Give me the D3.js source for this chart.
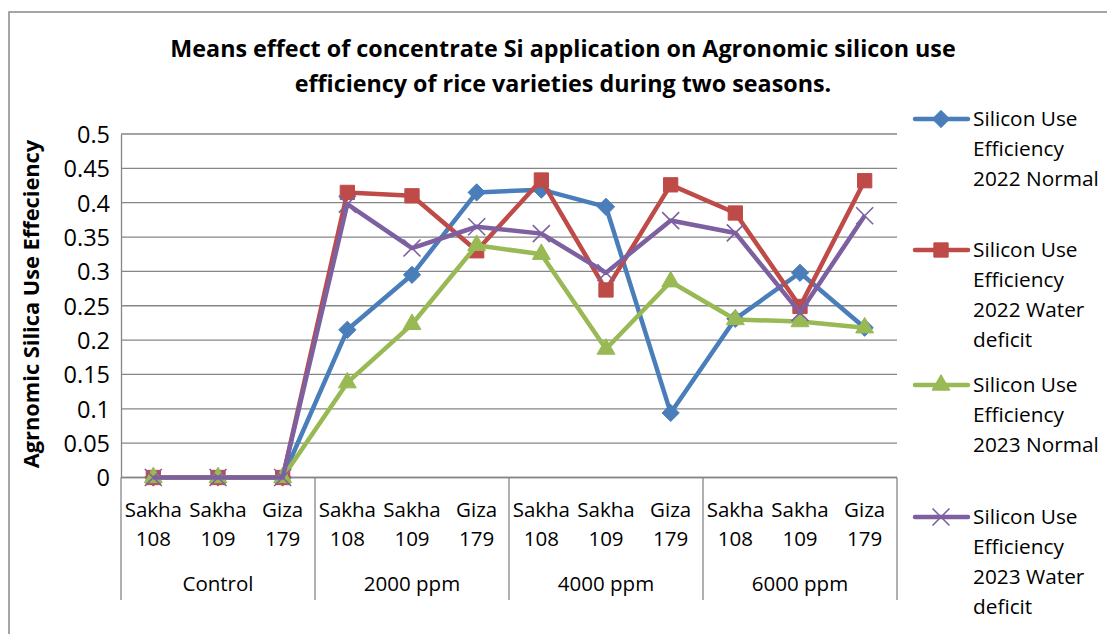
<!DOCTYPE html>
<html>
<head>
<meta charset="utf-8">
<script src="https://cdn.jsdelivr.net/npm/d3@7"></script>
<style>
  body { margin: 0; background: #fff; }
  text { font-family: "Open Sans", Lato, sans-serif; fill: #000; }
</style>
</head>
<body>
<svg id="chart"></svg>
<script>
const WIDTH = 1107
const HEIGHT = 634

const groups = ["Control", "2000 ppm", "4000 ppm", "6000 ppm"]
const varieties = [["Sakha", "108"], ["Sakha", "109"], ["Giza", "179"]]
const yTicks = [0, 0.05, 0.1, 0.15, 0.2, 0.25, 0.3, 0.35, 0.4, 0.45, 0.5]

const normal2022 = [0, 0, 0, 0.215, 0.295, 0.415, 0.419, 0.394, 0.094, 0.231, 0.298, 0.218]
const deficit2022 = [0, 0, 0, 0.415, 0.41, 0.33, 0.433, 0.273, 0.426, 0.385, 0.249, 0.432]
const normal2023 = [0, 0, 0, 0.138, 0.223, 0.338, 0.325, 0.187, 0.285, 0.23, 0.227, 0.218]
const deficit2023 = [0, 0, 0, 0.398, 0.334, 0.365, 0.355, 0.298, 0.374, 0.356, 0.24, 0.381]

const seriesNames = [
  ["Silicon Use", "Efficiency", "2022 Normal"],
  ["Silicon Use", "Efficiency", "2022 Water", "deficit"],
  ["Silicon Use", "Efficiency", "2023 Normal"],
  ["Silicon Use", "Efficiency", "2023 Water", "deficit"]
]
const seriesColours = ["#4a7ebb", "#be4b48", "#98b954", "#7d60a0"]
const seriesSymbols = ["diamond", "square", "triangle", "cross"]
const seriesValues = [normal2022, deficit2022, normal2023, deficit2023]

const plot = { left: 121, right: 897, top: 134, bottom: 477.5 }

let svg = d3.select("#chart")
  .attr("width", WIDTH)
  .attr("height", HEIGHT)

// outer chart border
svg.append("rect")
  .attr("x", 9).attr("y", 12)
  .attr("width", WIDTH + 10).attr("height", HEIGHT)
  .attr("fill", "none")
  .attr("stroke", "#888")
  .attr("stroke-width", 1.5)

// title
let title = svg.append("text")
  .attr("text-anchor", "middle")
  .style("font-weight", "bold")
  .style("font-size", "23.3px")
title.append("tspan").attr("x", 563).attr("y", 57)
  .text("Means effect of concentrate Si application on Agronomic silicon use")
title.append("tspan").attr("x", 563).attr("y", 92)
  .text("efficiency of rice varieties during two seasons.")

let categories = []
groups.forEach(g => varieties.forEach(v => categories.push(g + "|" + v.join(" "))))

let x = d3.scaleBand()
  .domain(categories)
  .range([plot.left, plot.right])

let y = d3.scaleLinear()
  .domain([0, 0.5])
  .range([plot.bottom, plot.top])

// gridlines
svg.append("g")
  .selectAll("line")
  .data(yTicks)
  .enter()
  .append("line")
  .attr("x1", plot.left).attr("x2", plot.right)
  .attr("y1", d => y(d)).attr("y2", d => y(d))
  .attr("stroke", "#868686")
  .attr("stroke-width", 1.3)

// y axis
let yAxis = svg.append("g")
  .attr("transform", `translate(${plot.left}, 0)`)
  .call(d3.axisLeft(y).tickValues(yTicks).tickSize(0).tickPadding(11).tickFormat(d => String(d)))
yAxis.select(".domain").attr("stroke", "#868686").attr("stroke-width", 1.3)
yAxis.selectAll(".tick text")
  .style("font-size", "23.5px")
  .style("font-family", "'Open Sans', sans-serif")
  .attr("fill", "#000")
  .attr("dy", "0.36em")

svg.append("text")
  .attr("transform", `translate(39, 304) rotate(-90)`)
  .attr("text-anchor", "middle")
  .style("font-weight", "bold")
  .style("font-size", "21.8px")
  .text("Agrnomic Silica Use Effeciency")

// x axis line and group dividers
svg.append("line")
  .attr("x1", plot.left).attr("x2", plot.right)
  .attr("y1", plot.bottom).attr("y2", plot.bottom)
  .attr("stroke", "#868686").attr("stroke-width", 1.3)

let groupEdges = groups.map((g, i) => x(g + "|" + varieties[0].join(" ")))
groupEdges.push(plot.right)
svg.append("g")
  .selectAll("line")
  .data(groupEdges)
  .enter()
  .append("line")
  .attr("x1", d => d).attr("x2", d => d)
  .attr("y1", plot.bottom).attr("y2", 600)
  .attr("stroke", "#868686").attr("stroke-width", 1.3)

let catLabels = svg.append("g")
  .selectAll("text")
  .data(categories)
  .enter()
  .append("text")
  .attr("text-anchor", "middle")
  .style("font-size", "20.5px")
catLabels.append("tspan")
  .attr("x", d => x(d) + x.bandwidth() / 2)
  .attr("y", 517)
  .text(d => d.split("|")[1].split(" ")[0])
catLabels.append("tspan")
  .attr("x", d => x(d) + x.bandwidth() / 2)
  .attr("y", 546)
  .text(d => d.split("|")[1].split(" ")[1])

svg.append("g")
  .selectAll("text")
  .data(groups)
  .enter()
  .append("text")
  .attr("x", (d, i) => (groupEdges[i] + groupEdges[i + 1]) / 2)
  .attr("y", 591)
  .attr("text-anchor", "middle")
  .style("font-size", "20.5px")
  .text(d => d)

// markers
function drawMarker(sel, symbol, colour) {
  if (symbol === "cross") {
    sel.append("path")
      .attr("d", "M-8.5,-8.5L8.5,8.5M-8.5,8.5L8.5,-8.5")
      .attr("stroke", colour)
      .attr("stroke-width", 1.6)
      .attr("fill", "none")
  } else {
    let shape = { diamond: d3.symbolDiamond2, square: d3.symbolSquare2, triangle: d3.symbolTriangle2 }[symbol]
    let size = { diamond: 190, square: 260, triangle: 230 }[symbol]
    sel.append("path")
      .attr("d", d3.symbol().type(shape).size(size)())
      .attr("fill", colour)
      .attr("stroke", colour)
      .attr("stroke-width", 1)
  }
}

let line = d3.line()
  .x((d, i) => x(categories[i]) + x.bandwidth() / 2)
  .y(d => y(d))

seriesValues.forEach((values, s) => {
  let g = svg.append("g")
  g.append("path")
    .datum(values)
    .attr("d", line)
    .attr("fill", "none")
    .attr("stroke", seriesColours[s])
    .attr("stroke-width", 4.5)
    .attr("stroke-linejoin", "round")
  values.forEach((v, i) => {
    let m = g.append("g")
      .attr("transform", `translate(${x(categories[i]) + x.bandwidth() / 2}, ${y(v)})`)
    drawMarker(m, seriesSymbols[s], seriesColours[s])
  })
})

// legend
let legendTops = [119, 250, 385, 517]
seriesNames.forEach((lines, s) => {
  let item = svg.append("g")
  let ly = legendTops[s]
  item.append("line")
    .attr("x1", 915).attr("x2", 968)
    .attr("y1", ly).attr("y2", ly)
    .attr("stroke", seriesColours[s])
    .attr("stroke-width", 4.5)
    .attr("stroke-linecap", "round")
  let m = item.append("g").attr("transform", `translate(941, ${ly})`)
  drawMarker(m, seriesSymbols[s], seriesColours[s])
  let t = item.append("text").style("font-size", "20.8px")
  lines.forEach((txt, k) => {
    t.append("tspan")
      .attr("x", 973)
      .attr("y", ly + 7 + k * 30)
      .text(txt)
  })
})
</script>
</body>
</html>
